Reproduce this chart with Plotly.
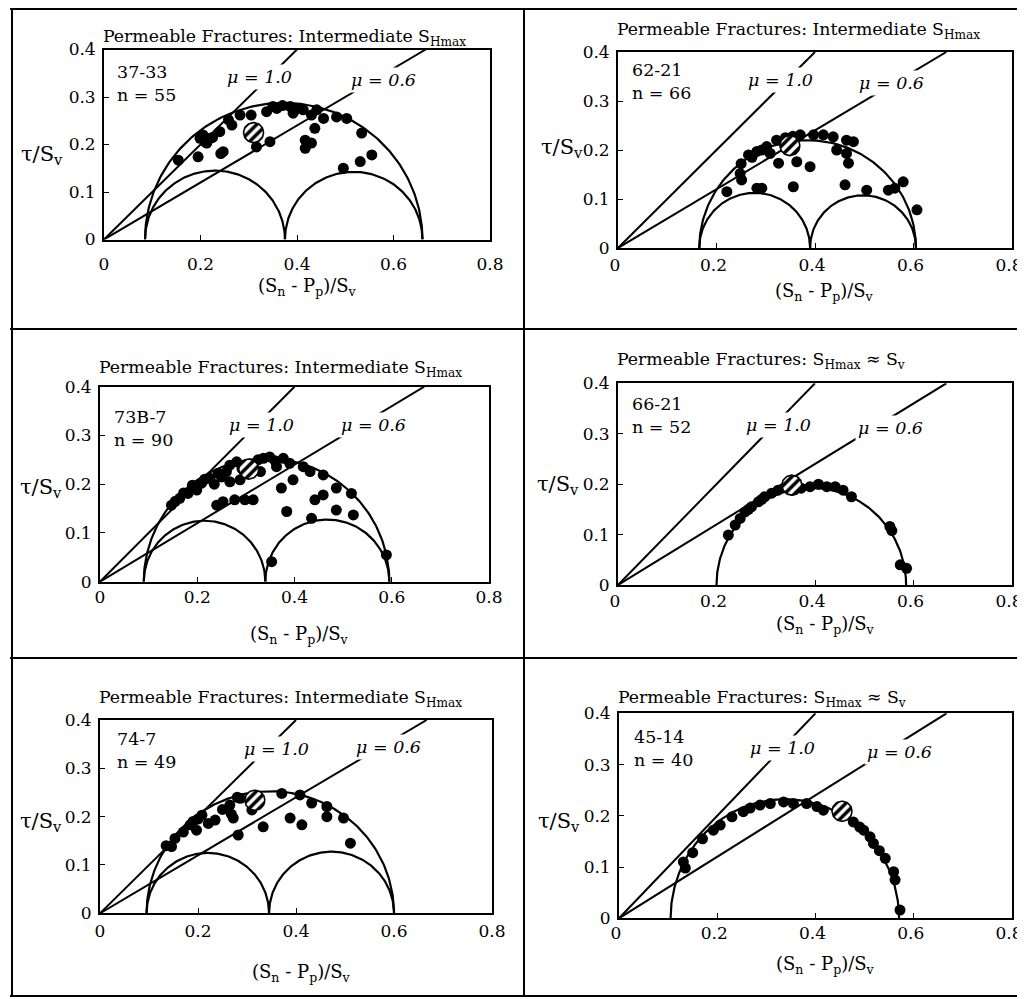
import numpy as np
import plotly.graph_objects as go

# ---------------- data ----------------
WELLS = ["37-33", "62-21", "73B-7", "66-21", "74-7", "45-14"]
N_COUNTS = [55, 66, 90, 52, 49, 40]
REGIMES = ["Intermediate S<sub>Hmax</sub>", "Intermediate S<sub>Hmax</sub>",
           "Intermediate S<sub>Hmax</sub>", "S<sub>Hmax</sub> ≈ S<sub>v</sub>",
           "Intermediate S<sub>Hmax</sub>", "S<sub>Hmax</sub> ≈ S<sub>v</sub>"]

# effective principal stresses normalised by Sv (sigma3, sigma2, sigma1); None = sigma2 ~ sigma1
S3 = [0.085, 0.165, 0.090, 0.200, 0.095, 0.105]
S2 = [0.375, 0.390, 0.340, None, 0.345, None]
S1 = [0.660, 0.605, 0.595, 0.585, 0.600, 0.570]

MU = [1.0, 0.6]

# mean (hatched) point per well
MEAN_X = [0.310, 0.349, 0.306, 0.353, 0.316, 0.454]
MEAN_Y = [0.225, 0.209, 0.231, 0.198, 0.234, 0.209]

# permeable fractures per well
x_3733 = [0.154, 0.195, 0.199, 0.213, 0.220, 0.205, 0.210, 0.240, 0.247, 0.242, 0.258, 0.265, 0.282,
          0.305, 0.316, 0.344, 0.337, 0.358, 0.386, 0.392, 0.413, 0.430, 0.441, 0.437, 0.455, 0.417,
          0.430, 0.417, 0.482, 0.503, 0.534, 0.496, 0.531, 0.555, 0.350, 0.370, 0.400, 0.225]
y_3733 = [0.167, 0.174, 0.213, 0.203, 0.213, 0.220, 0.205, 0.227, 0.185, 0.181, 0.252, 0.241, 0.262,
          0.262, 0.195, 0.206, 0.269, 0.276, 0.280, 0.266, 0.273, 0.262, 0.273, 0.234, 0.255, 0.209,
          0.203, 0.192, 0.258, 0.255, 0.224, 0.150, 0.164, 0.178, 0.280, 0.282, 0.276, 0.215]

x_6221 = [0.221, 0.248, 0.251, 0.282, 0.292, 0.265, 0.282, 0.302, 0.322, 0.326, 0.309, 0.356, 0.363,
          0.390, 0.370, 0.397, 0.417, 0.437, 0.444, 0.464, 0.478, 0.464, 0.468, 0.461, 0.505, 0.549,
          0.562, 0.579, 0.607, 0.250, 0.272, 0.292, 0.340, 0.355]
y_6221 = [0.115, 0.152, 0.139, 0.122, 0.122, 0.190, 0.197, 0.207, 0.220, 0.173, 0.193, 0.125, 0.176,
          0.166, 0.231, 0.231, 0.231, 0.227, 0.200, 0.220, 0.217, 0.193, 0.173, 0.129, 0.118, 0.118,
          0.122, 0.135, 0.078, 0.172, 0.185, 0.200, 0.225, 0.228]

x_73B7 = [0.147, 0.164, 0.181, 0.199, 0.209, 0.226, 0.243, 0.260, 0.267, 0.281, 0.288, 0.267, 0.240,
          0.253, 0.277, 0.298, 0.315, 0.336, 0.349, 0.363, 0.377, 0.390, 0.397, 0.373, 0.384, 0.418,
          0.432, 0.459, 0.486, 0.459, 0.442, 0.486, 0.517, 0.521, 0.435, 0.353, 0.589, 0.325, 0.330,
          0.292, 0.250, 0.235, 0.190, 0.172, 0.360, 0.215, 0.155]
y_73B7 = [0.157, 0.171, 0.181, 0.188, 0.202, 0.212, 0.222, 0.226, 0.239, 0.246, 0.209, 0.205, 0.157,
          0.164, 0.168, 0.168, 0.168, 0.253, 0.256, 0.236, 0.253, 0.243, 0.209, 0.192, 0.144, 0.236,
          0.226, 0.219, 0.192, 0.178, 0.168, 0.147, 0.181, 0.137, 0.130, 0.041, 0.055, 0.250, 0.226,
          0.232, 0.215, 0.200, 0.198, 0.182, 0.248, 0.210, 0.165]

x_6621 = [0.224, 0.238, 0.248, 0.258, 0.271, 0.285, 0.298, 0.312, 0.325, 0.390, 0.407, 0.424, 0.441,
          0.457, 0.474, 0.552, 0.556, 0.573, 0.586, 0.372, 0.265, 0.292]
y_6621 = [0.099, 0.119, 0.132, 0.145, 0.155, 0.165, 0.175, 0.182, 0.188, 0.195, 0.200, 0.195, 0.195,
          0.188, 0.175, 0.116, 0.108, 0.040, 0.033, 0.192, 0.150, 0.170]

x_747 = [0.146, 0.153, 0.184, 0.197, 0.208, 0.221, 0.235, 0.265, 0.272, 0.286, 0.282, 0.310, 0.333,
         0.371, 0.388, 0.408, 0.412, 0.432, 0.463, 0.463, 0.497, 0.511, 0.170, 0.190, 0.250, 0.280,
         0.268, 0.135, 0.200]
y_747 = [0.138, 0.155, 0.183, 0.172, 0.203, 0.186, 0.193, 0.224, 0.197, 0.238, 0.162, 0.214, 0.179,
         0.248, 0.197, 0.245, 0.183, 0.228, 0.221, 0.200, 0.197, 0.145, 0.168, 0.190, 0.215, 0.240,
         0.205, 0.140, 0.195]

x_4514 = [0.131, 0.135, 0.150, 0.192, 0.206, 0.253, 0.267, 0.287, 0.308, 0.335, 0.355, 0.382, 0.403,
          0.416, 0.477, 0.498, 0.511, 0.518, 0.542, 0.559, 0.562, 0.572, 0.230, 0.170, 0.490, 0.530]
y_4514 = [0.110, 0.098, 0.128, 0.172, 0.182, 0.208, 0.215, 0.221, 0.224, 0.227, 0.224, 0.224, 0.218,
          0.211, 0.188, 0.172, 0.159, 0.146, 0.117, 0.091, 0.075, 0.016, 0.198, 0.155, 0.178, 0.132]

POINTS_X = [x_3733, x_6221, x_73B7, x_6621, x_747, x_4514]
POINTS_Y = [y_3733, y_6221, y_73B7, y_6621, y_747, y_4514]

X_TICKS = [0, 0.2, 0.4, 0.6, 0.8]
Y_TICKS = [0, 0.1, 0.2, 0.3, 0.4]

# ---------------- layout helpers ----------------
OFF = 8                      # page margin of the html body
FW, FH = 1025 - OFF, 999 - OFF
FONT = "DejaVu Serif"


def px_x(p):
    return (p - OFF) / FW


def px_y(p):
    return 1 - (p - OFF) / FH


# page-pixel boxes of each axes (left, right, top, bottom)
BOXES = [(104, 490, 49.5, 239.5), (618, 1012, 52, 248),
         (100, 489, 386.7, 581.7), (618, 1012, 383.3, 585),
         (100, 492, 720, 913.3), (619, 1012, 713.3, 918.3)]
MU_POS = [[(0.323, 0.343), (0.579, 0.336)], [(0.330, 0.343), (0.556, 0.336)],
          [(0.332, 0.321), (0.562, 0.321)], [(0.326, 0.317), (0.553, 0.311)],
          [(0.361, 0.341), (0.589, 0.345)], [(0.332, 0.332), (0.570, 0.325)]]
WELL_POS = [(0.028, 0.945), (0.03, 0.97), (0.031, 0.906), (0.03, 0.957), (0.038, 0.964), (0.034, 0.943)]
XT_POS = [(0.528, -0.25), (0.523, -0.222), (0.514, -0.273), (0.526, -0.198), (0.515, -0.31), (0.525, -0.228)]
YT_POS = [(-0.16, 0.445), (-0.142, 0.51), (-0.152, 0.48), (-0.152, 0.496), (-0.15, 0.472), (-0.152, 0.47)]
TITLE_GAP = [-2, 8, 5, 9, 8, 1]
XLABEL_SHIFT = [0, -3, 0, -3, 0, -3]
XLABEL_STANDOFF = [8, 1, -1, 0, 1, -2]

fig = go.Figure()
annotations = []
XMAX, YMAX = X_TICKS[-1], Y_TICKS[-1]

for i in range(6):
    sfx = "" if i == 0 else str(i + 1)
    xa, ya = "x" + sfx, "y" + sfx
    l, r, t, b = BOXES[i]
    axis_common = dict(showline=True, mirror=True, linecolor="black", linewidth=1.8,
                       showgrid=False, zeroline=False, ticks="inside", ticklen=5,
                       tickcolor="black", tickwidth=1.3, automargin=False,
                       ticklabeloverflow="allow",
                       tickfont=dict(family=FONT, size=17, color="black"))
    fig.layout["xaxis" + sfx] = dict(domain=[px_x(l), px_x(r)], anchor=ya, range=[0, XMAX],
                                     tickvals=X_TICKS, ticklabelstandoff=XLABEL_STANDOFF[i],
                                     ticklabelshift=XLABEL_SHIFT[i], **axis_common)
    fig.layout["yaxis" + sfx] = dict(domain=[px_y(b), px_y(t)], anchor=xa, range=[0, YMAX],
                                     tickvals=Y_TICKS, ticklabelstandoff=3, **axis_common)

    # Mohr circles
    circles = [(S3[i], S1[i])]
    if S2[i] is not None:
        circles += [(S3[i], S2[i]), (S2[i], S1[i])]
    th = np.linspace(np.pi, 0, 181)
    for lo, hi in circles:
        c, rad = (lo + hi) / 2, (hi - lo) / 2
        fig.add_trace(go.Scatter(x=c + rad * np.cos(th), y=rad * np.sin(th), mode="lines",
                                 line=dict(color="black", width=2.2), xaxis=xa, yaxis=ya,
                                 showlegend=False, hoverinfo="skip"))
    # friction lines
    for mu in MU:
        fig.add_trace(go.Scatter(x=[0, YMAX / mu], y=[0, YMAX], mode="lines",
                                 line=dict(color="black", width=2), xaxis=xa, yaxis=ya,
                                 showlegend=False, hoverinfo="skip"))
    # fractures
    fig.add_trace(go.Scatter(x=POINTS_X[i], y=POINTS_Y[i], mode="markers",
                             marker=dict(color="black", size=11, line=dict(width=0)),
                             xaxis=xa, yaxis=ya, showlegend=False))
    # hatched mean marker (10 px radius)
    rx = 10 * XMAX / (r - l)
    ry = 10 * YMAX / (b - t)
    ph = np.linspace(0, 2 * np.pi, 60)
    fig.add_trace(go.Scatter(x=MEAN_X[i] + rx * np.cos(ph), y=MEAN_Y[i] + ry * np.sin(ph),
                             mode="lines", fill="toself", fillcolor="white",
                             fillpattern=dict(shape="/", fgcolor="black", bgcolor="white",
                                              size=7, solidity=0.5),
                             line=dict(color="black", width=1.6), xaxis=xa, yaxis=ya,
                             showlegend=False, hoverinfo="skip"))

    xd, yd = xa + " domain", ya + " domain"
    annotations.append(dict(text="Permeable Fractures: " + REGIMES[i], x=0, y=1, xref=xd, yref=yd,
                            xanchor="left", yanchor="bottom", yshift=TITLE_GAP[i], xshift=-3,
                            showarrow=False, font=dict(family=FONT, size=17.3, color="black")))
    annotations.append(dict(text=f"{WELLS[i]}<br>n = {N_COUNTS[i]}", x=WELL_POS[i][0], y=WELL_POS[i][1],
                            xref=xd, yref=yd, xanchor="left", yanchor="top", align="left",
                            showarrow=False, font=dict(family=FONT, size=17.5, color="black")))
    for mu, (mx, my) in zip(MU, MU_POS[i]):
        annotations.append(dict(text=f"<i>μ = {mu:.1f}</i>", x=mx, y=my, xref=xa, yref=ya,
                                xanchor="center", yanchor="middle", showarrow=False,
                                bgcolor="white", borderpad=2,
                                font=dict(family=FONT, size=17.5, color="black")))
    annotations.append(dict(text="(S<sub>n</sub> - P<sub>p</sub>)/S<sub>v</sub>",
                            x=XT_POS[i][0], y=XT_POS[i][1], xref=xd, yref=yd,
                            xanchor="center", yanchor="middle", showarrow=False,
                            font=dict(family=FONT, size=18, color="black")))
    annotations.append(dict(text="τ/S<sub>v</sub>", x=YT_POS[i][0], y=YT_POS[i][1], xref=xd, yref=yd,
                            xanchor="center", yanchor="middle", showarrow=False,
                            font=dict(family=FONT, size=21, color="black")))

# page frame lines (page pixels)
shapes = []
for yy in [9, 329, 658, 996]:
    shapes.append(dict(type="line", xref="paper", yref="paper", x0=px_x(10), x1=1,
                       y0=px_y(yy), y1=px_y(yy), line=dict(color="black", width=2)))
for xx in [12, 524]:
    shapes.append(dict(type="line", xref="paper", yref="paper", x0=px_x(xx), x1=px_x(xx),
                       y0=px_y(996), y1=px_y(9), line=dict(color="black", width=2)))

fig.update_layout(template="none", width=FW, height=FH, margin=dict(l=0, r=0, t=0, b=0, pad=0),
                  paper_bgcolor="white", plot_bgcolor="white",
                  annotations=annotations, shapes=shapes, showlegend=False,
                  font=dict(family=FONT, color="black"))
fig.write_html("out.html")
